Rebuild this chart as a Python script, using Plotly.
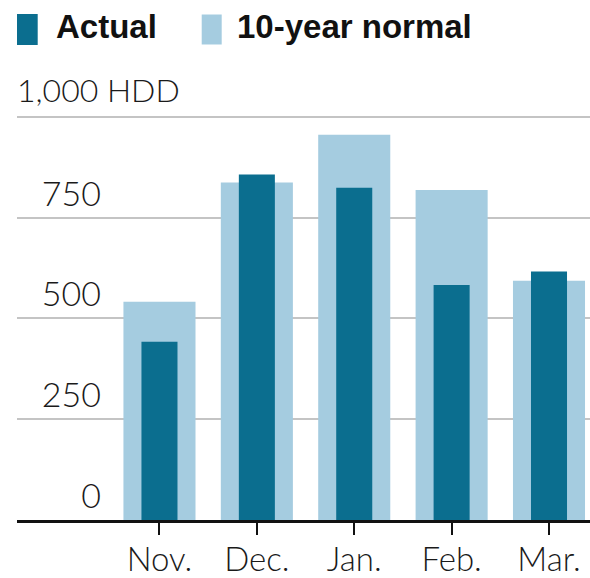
import plotly.graph_objects as go

months = ["Nov.", "Dec.", "Jan.", "Feb.", "Mar."]
actual = [442, 857, 824, 583, 616]
normal = [541, 837, 955, 818, 593]
y_ticks = [0, 250, 500, 750, 1000]
y_ticktext = ["0", "250", "500", "750", ""]

W, H = 590, 578
DARK = "#0b6e8f"
LIGHT = "#a5cce0"
FONT_B = "Liberation Sans"
FONT_L = "Lato, Liberation Sans"

def px(x):
    return x / W

def py(y):
    return (H - y) / H

fig = go.Figure()
fig.add_trace(go.Bar(x=months, y=normal, name="10-year normal", marker_color=LIGHT,
                     marker_line_width=0, width=0.74, showlegend=False))
fig.add_trace(go.Bar(x=months, y=actual, name="Actual", marker_color=DARK,
                     marker_line_width=0, width=0.37, showlegend=False))

fig.update_layout(
    width=W, height=H,
    margin=dict(l=0, r=0, t=0, b=0, pad=0, autoexpand=False),
    paper_bgcolor="white", plot_bgcolor="white",
    barmode="overlay",
    showlegend=False,
    font=dict(family=FONT_L, color="#222222"),
    xaxis=dict(
        domain=[px(17), 1], range=[-1.463, 4.421], automargin=False,
        showline=True, linecolor="#111111", linewidth=3,
        ticks="outside", ticklen=12, tickwidth=2, tickcolor="#111111",
        ticklabelstandoff=-4,
        tickfont=dict(size=33, family=FONT_L, weight=300, color="#1a1a1a"),
        showgrid=False, zeroline=False, fixedrange=True,
    ),
    yaxis=dict(
        domain=[py(520), py(76.4)], range=[0, 1100], automargin=False,
        anchor="free", position=px(101),
        tickmode="array", tickvals=y_ticks, ticktext=y_ticktext,
        ticklabelposition="outside top", ticks="",
        tickfont=dict(size=34, family=FONT_L, weight=300, color="#1a1a1a"),
        showgrid=True, gridcolor="#c4c4c4", gridwidth=2,
        zeroline=False, showline=False, fixedrange=True,
    ),
)

# y-axis unit label
fig.add_annotation(text="1,000 HDD", xref="paper", yref="paper", x=px(15), y=py(89),
                   xanchor="left", yanchor="middle", showarrow=False,
                   font=dict(size=32, family=FONT_L, weight=300, color="#1a1a1a"))

# legend
fig.add_shape(type="rect", xref="paper", yref="paper", x0=px(17), x1=px(37.7),
              y0=py(45), y1=py(14), fillcolor=DARK, line_width=0)
fig.add_annotation(text="<b>Actual</b>", xref="paper", yref="paper", x=px(54), y=py(26.5),
                   xanchor="left", yanchor="middle", showarrow=False,
                   font=dict(size=33, family=FONT_B, color="#111111"))
fig.add_shape(type="rect", xref="paper", yref="paper", x0=px(201.7), x1=px(221.7),
              y0=py(44.5), y1=py(14.5), fillcolor=LIGHT, line_width=0)
fig.add_annotation(text="<b>10-year normal</b>", xref="paper", yref="paper", x=px(235), y=py(26.5),
                   xanchor="left", yanchor="middle", showarrow=False,
                   font=dict(size=33, family=FONT_B, color="#111111"))

fig.write_html("out.html", config={"displayModeBar": False},
               post_script="document.body.style.margin='0';document.body.style.overflow='hidden';")
